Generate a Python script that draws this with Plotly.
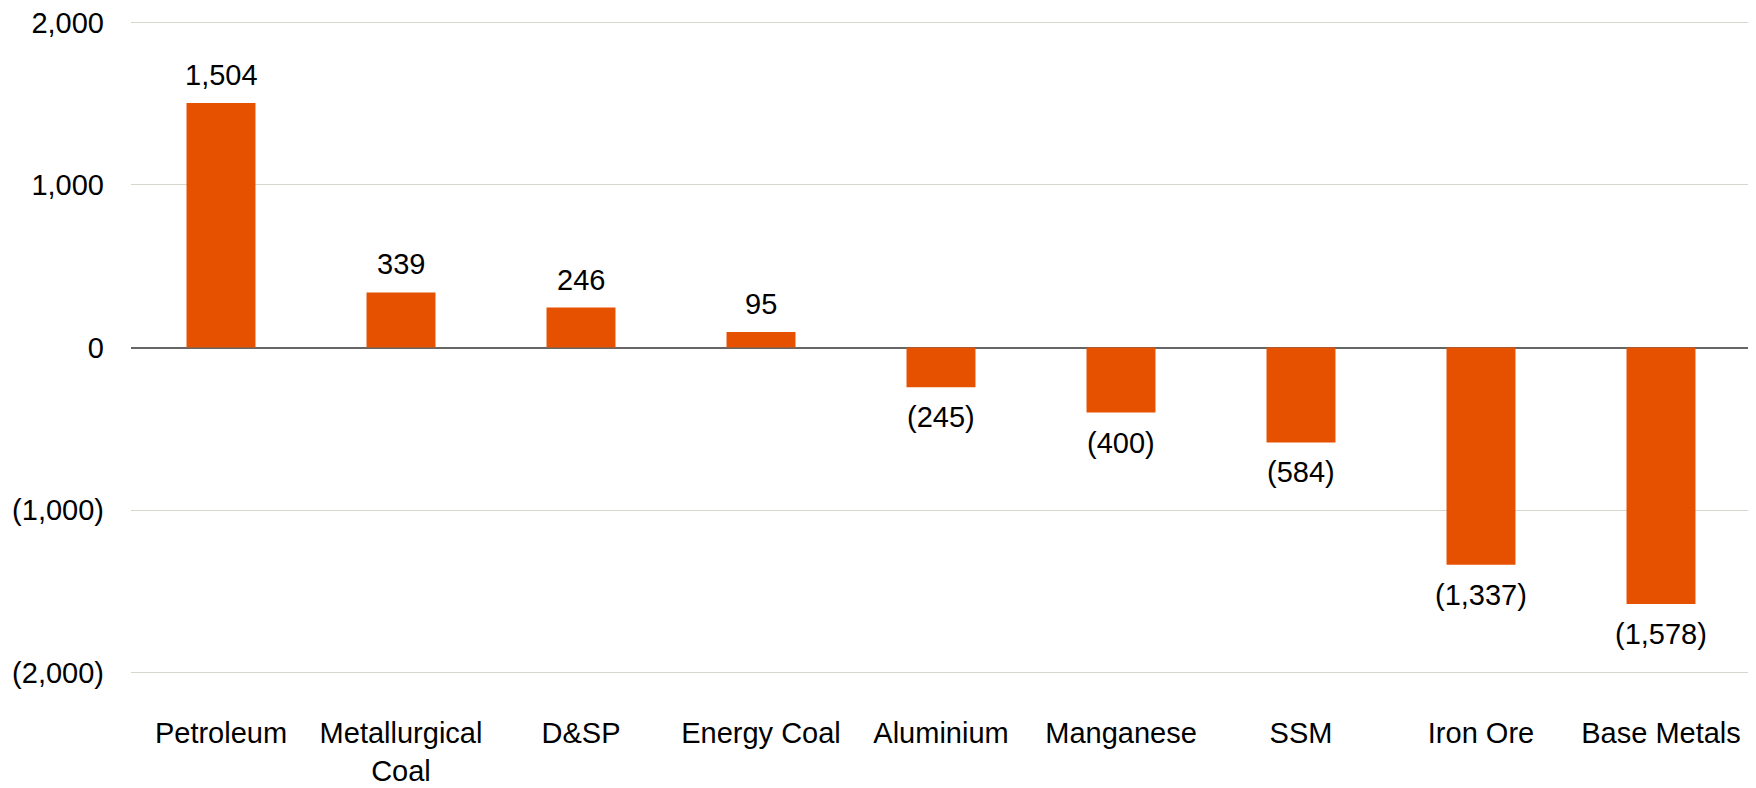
import plotly.graph_objects as go

categories = ["Petroleum", "Metallurgical<br>Coal", "D&SP", "Energy Coal", "Aluminium",
              "Manganese", "SSM", "Iron Ore", "Base Metals"]
values = [1504, 339, 246, 95, -245, -400, -584, -1337, -1578]
y_tickvals = [-2000, -1000, 0, 1000, 2000]
y_ticktext = ["(2,000)", "(1,000)", "0", "1,000", "2,000"]


def fmt(v):
    s = f"{abs(v):,}"
    return f"({s})" if v < 0 else s


FONT = "Arial, Liberation Sans, sans-serif"
BAR = "#E65100"

fig = go.Figure()
fig.add_trace(go.Bar(
    x=categories, y=values,
    marker=dict(color=BAR, line=dict(width=0)),
    hoverinfo="skip",
))

for c, v in zip(categories, values):
    fig.add_annotation(
        x=c, y=v, text=fmt(v), showarrow=False,
        yanchor="middle", xanchor="center",
        yshift=28 if v >= 0 else -30,
        font=dict(family=FONT, size=29, color="#000000"),
    )

# page body has an 8px default margin, so the figure is sized to fit the window
fig.update_layout(
    width=1748, height=780,
    margin=dict(l=123, r=5, t=12, b=113),
    paper_bgcolor="white", plot_bgcolor="white",
    bargap=0.617,
    showlegend=False,
    font=dict(family=FONT, size=29, color="#000000"),
)
fig.update_xaxes(
    showgrid=False, showline=False, ticks="", ticklen=0,
    ticklabelstandoff=38, automargin=False, ticklabeloverflow="allow",
    tickfont=dict(family=FONT, size=29, color="#000000"),
)
fig.update_yaxes(
    range=[-2015, 2015], automargin=False, ticklabeloverflow="allow",
    tickvals=y_tickvals, ticktext=y_ticktext,
    showgrid=True, gridcolor="#D6D6CC", gridwidth=1,
    zeroline=True, zerolinecolor="#666666", zerolinewidth=2,
    showline=False, ticks="", ticklabelstandoff=26,
    tickfont=dict(family=FONT, size=29, color="#000000"),
)

fig.write_html("out.html")
